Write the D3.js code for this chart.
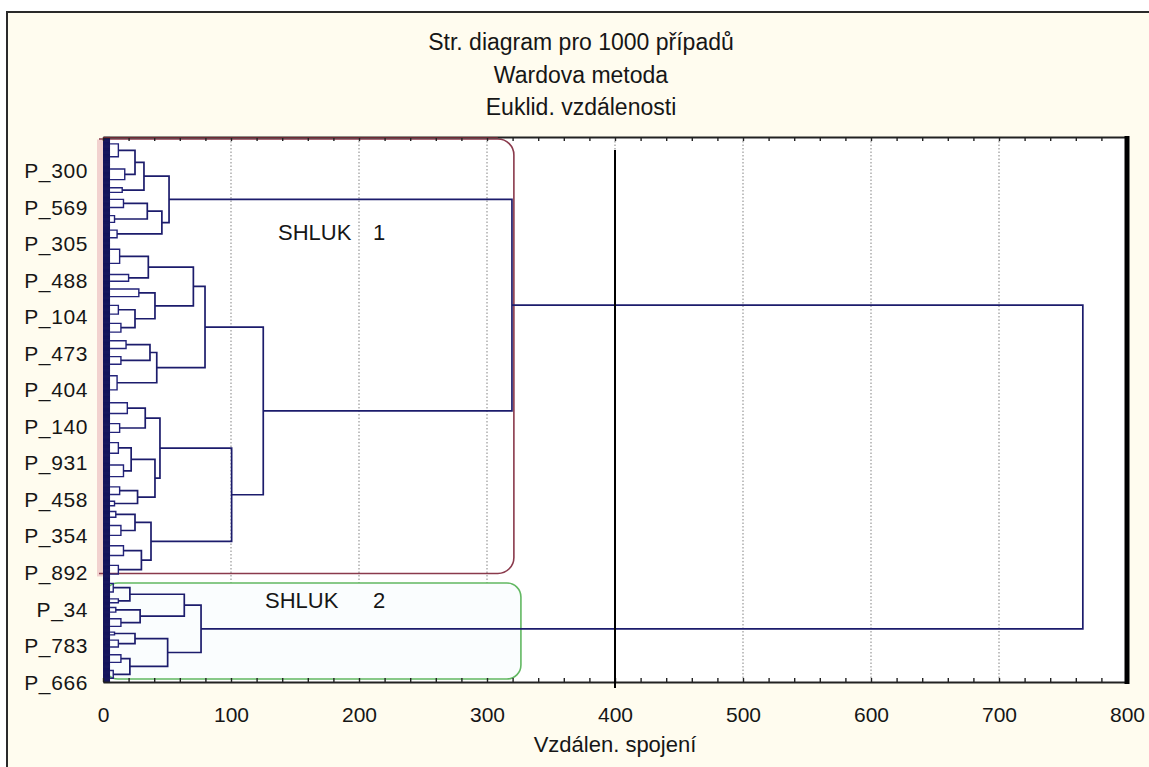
<!DOCTYPE html>
<html>
<head>
<meta charset="utf-8">
<script src="https://cdn.jsdelivr.net/npm/d3@7"></script>
<style>
  body { margin: 0; background: #fff; }
  text { font-family: "Liberation Sans", Arial, sans-serif; fill: #161616; }
</style>
</head>
<body>
<svg id="chart" width="1149" height="767"></svg>
<script>
// ---- chart content -------------------------------------------------------
const titleLines = ["Str. diagram pro 1000 případů", "Wardova metoda", "Euklid. vzdálenosti"];
const axisTitle = "Vzdálen. spojení";
const distanceTicks = [0, 100, 200, 300, 400, 500, 600, 700, 800];
const gridTicks = [100, 200, 300, 400, 500, 600, 700];
const caseLabels = ["P_300", "P_569", "P_305", "P_488", "P_104", "P_473", "P_404", "P_140",
                    "P_931", "P_458", "P_354", "P_892", "P_34", "P_783", "P_666"];
const caseLabelIndex = [61, 128, 195, 262, 329, 396, 463, 530, 597, 664, 731, 798, 865, 932, 999];
const cutDistance = 400;
const clusterNames = ["SHLUK 1", "SHLUK 2"];

// lowest drawn sub-clusters, top to bottom: [id, number of cases, linkage distance]
const twigs = [
  ["t1", 48, 12], ["t2", 40, 17], ["t3", 18, 15], ["t4", 31, 16], ["t5", 26, 9], ["t6", 29, 11],
  ["t7", 53, 13], ["t8", 26, 20], ["t9", 29, 28], ["t10", 33, 12], ["t11", 33, 14],
  ["t12", 29, 18], ["t13", 29, 14], ["t14", 53, 11],
  ["t15", 40, 19], ["t16", 33, 13], ["t17", 40, 12], ["t18", 44, 16], ["t19", 29, 13], ["t20", 18, 9],
  ["t21", 22, 10], ["t22", 37, 14], ["t23", 37, 16], ["t24", 33, 12],
  ["t25", 33, 8], ["t26", 15, 12], ["t27", 18, 10], ["t28", 29, 14],
  ["t29", 11, 9], ["t30", 26, 12], ["t31", 29, 14], ["t32", 29, 8]
];

// joins above them: [id, upper child, lower child, linkage distance]
const merges = [
  ["A1a", "t1", "t2", 25], ["A1", "A1a", "t3", 32],
  ["A2a", "t4", "t5", 34.6], ["A2", "A2a", "t6", 46], ["A", "A1", "A2", 51.6],
  ["B1a1", "t7", "t8", 35.4], ["B1a2b", "t10", "t11", 25], ["B1a2", "t9", "B1a2b", 40.6],
  ["B1a", "B1a1", "B1a2", 70.6], ["B1b1", "t12", "t13", 36.7], ["B1b", "B1b1", "t14", 42],
  ["B1", "B1a", "B1b", 79.7],
  ["B2a1", "t15", "t16", 33], ["B2a2a", "t17", "t18", 22], ["B2a2b", "t19", "t20", 27],
  ["B2a2", "B2a2a", "B2a2b", 40.6], ["B2a", "B2a1", "B2a2", 44.5],
  ["B2b1", "t21", "t22", 25], ["B2b2", "t23", "t24", 30], ["B2b", "B2b1", "B2b2", 37.5],
  ["B2", "B2a", "B2b", 100.5], ["B", "B1", "B2", 125.2],
  ["K1", "A", "B", 319.5],
  ["S2a1", "t25", "t26", 21], ["S2a2", "t27", "t28", 29], ["S2a", "S2a1", "S2a2", 63.5],
  ["S2b1", "t29", "t30", 25], ["S2b2", "t31", "t32", 21], ["S2b", "S2b1", "S2b2", 50.5],
  ["K2", "S2a", "S2b", 76.6],
  ["root", "K1", "K2", 765.5]
];
const clusterRoots = ["K1", "K2"];

// ---- layout --------------------------------------------------------------
const W = 1149, H = 767;
const plot = { left: 103, right: 1127, top: 137, bottom: 682 };
const svg = d3.select("#chart");

const totalCases = d3.sum(twigs, d => d[1]);
const x = d3.scaleLinear().domain([0, 800]).range([plot.left, plot.right]);
const y = d3.scaleLinear().domain([0, totalCases - 1]).range([plot.top + 0.5, plot.bottom]);

// node positions
const nodes = new Map();
let offset = 0;
twigs.forEach(([id, n, h]) => {
  nodes.set(id, { id, h, first: offset, last: offset + n - 1, twig: true,
                  yc: y(offset + (n - 1) / 2) });
  offset += n;
});
merges.forEach(([id, a, b, h]) => {
  const na = nodes.get(a), nb = nodes.get(b);
  nodes.set(id, { id, h, a: na, b: nb, first: na.first, last: nb.last, yc: (na.yc + nb.yc) / 2 });
});

// ---- background and frame ------------------------------------------------
svg.append("rect").attr("width", W).attr("height", H).attr("fill", "#ffffff");
svg.append("rect").attr("x", 7).attr("y", 12).attr("width", W + 40).attr("height", H + 40)
  .attr("fill", "#fffcef").attr("stroke", "#2a2a2a").attr("stroke-width", 2);

// title
svg.append("g").selectAll("text").data(titleLines).join("text")
  .attr("x", 581).attr("y", (d, i) => 50 + i * 32.5)
  .attr("text-anchor", "middle").attr("font-size", 23).text(d => d);

// pink margin of the first cluster outside the plot
const k1 = nodes.get(clusterRoots[0]), k2 = nodes.get(clusterRoots[1]);
svg.append("rect").attr("x", 97).attr("y", y(k1.first) + 2)
  .attr("width", plot.left - 97).attr("height", y(k1.last) - y(k1.first) - 4)
  .attr("fill", "#f2d2cf");

// plot area
svg.append("rect").attr("x", plot.left).attr("y", plot.top)
  .attr("width", plot.right - plot.left).attr("height", plot.bottom - plot.top)
  .attr("fill", "#ffffff");

// dotted grid
svg.append("g").selectAll("line").data(gridTicks).join("line")
  .attr("x1", d => x(d)).attr("x2", d => x(d))
  .attr("y1", plot.top + 4).attr("y2", plot.bottom - 2)
  .attr("stroke", "#a0a0a0").attr("stroke-width", 1.3).attr("stroke-dasharray", "1.5,2");

// cluster boxes
const boxR = 16;
const b1 = { x0: 99, x1: x(321), y0: plot.top + 2, y1: y(k1.last) - 5 };
svg.append("path")
  .attr("d", `M${b1.x0},${b1.y0} H${b1.x1 - boxR} A${boxR},${boxR} 0 0 1 ${b1.x1},${b1.y0 + boxR}
              V${b1.y1 - boxR} A${boxR},${boxR} 0 0 1 ${b1.x1 - boxR},${b1.y1} H${b1.x0}`)
  .attr("fill", "none").attr("stroke", "#8a3a4c").attr("stroke-width", 1.6);

const b2 = { x0: plot.left + 1, x1: x(326.5), y0: y(k2.first) + 4, y1: plot.bottom - 3 };
svg.append("rect").attr("x", b2.x0).attr("y", b2.y0)
  .attr("width", b2.x1 - b2.x0).attr("height", b2.y1 - b2.y0).attr("rx", 14)
  .attr("fill", "#fafdfe").attr("stroke", "#62b862").attr("stroke-width", 1.6);

// cluster captions
const captionPos = [{ x: 278, y: 240, nx: 373 }, { x: 265, y: 608, nx: 373 }];
clusterNames.forEach((name, i) => {
  const [word, num] = name.split(" ");
  const g = svg.append("g").attr("font-size", 22);
  g.append("text").attr("x", captionPos[i].x).attr("y", captionPos[i].y).text(word);
  g.append("text").attr("x", captionPos[i].nx).attr("y", captionPos[i].y).text(num);
});

// ---- dendrogram ----------------------------------------------------------
const lineColor = "#1c1c6c";
const stubH = 5.5;
const tree = svg.append("g").attr("fill", "none").attr("stroke", lineColor)
  .attr("stroke-width", 1.7);

// one short stub per case: the dense band of the lowest joins
svg.append("g").selectAll("line").data(d3.range(totalCases)).join("line")
  .attr("x1", x(0)).attr("x2", x(stubH))
  .attr("y1", d => y(d)).attr("y2", d => y(d))
  .attr("stroke", "#15155c").attr("stroke-width", 1.2);

// lowest sub-clusters as small brackets on the band
nodes.forEach(n => {
  if (!n.twig) return;
  const span = n.last - n.first;
  const ya = y(n.first + span * 0.25), yb = y(n.first + span * 0.75);
  tree.append("path")
    .attr("d", `M${x(stubH)},${ya} H${x(n.h)} V${yb} H${x(stubH)}`)
    .attr("stroke", "#23237a").attr("stroke-width", 1.4);
});

// joins
merges.forEach(([id]) => {
  const n = nodes.get(id);
  tree.append("path")
    .attr("d", `M${x(n.a.h)},${n.a.yc} H${x(n.h)} V${n.b.yc} H${x(n.b.h)}`);
});

// ---- axes ----------------------------------------------------------------
const minorTicks = d3.range(0, 801, 20);
const axisB = svg.append("g").attr("transform", `translate(0,${plot.bottom})`)
  .call(d3.axisBottom(x).tickValues(minorTicks).tickSizeInner(-4).tickSizeOuter(0).tickFormat(""));
const axisT = svg.append("g").attr("transform", `translate(0,${plot.top})`)
  .call(d3.axisTop(x).tickValues(minorTicks).tickSizeInner(-4).tickSizeOuter(0).tickFormat(""));
[axisB, axisT].forEach(g => {
  g.select(".domain").attr("stroke", "#222").attr("stroke-width", 2);
  g.selectAll(".tick line").attr("stroke", "#222").attr("stroke-width", 1.4);
});
// red box top edge runs along the top axis
svg.append("line").attr("x1", plot.left).attr("x2", b1.x1 - boxR)
  .attr("y1", plot.top + 0.5).attr("y2", plot.top + 0.5)
  .attr("stroke", "#6e2a34").attr("stroke-width", 1.2);

svg.append("g").attr("transform", `translate(0,${plot.bottom})`)
  .call(d3.axisBottom(x).tickValues(distanceTicks).tickSize(0).tickPadding(25)
        .tickFormat(d3.format("d")))
  .call(g => g.select(".domain").remove())
  .call(g => g.selectAll("text").attr("font-size", 21).attr("fill", "#161616")
        .attr("font-family", "Liberation Sans, Arial, sans-serif"));

// right border
svg.append("line").attr("x1", plot.right).attr("x2", plot.right)
  .attr("y1", plot.top - 1).attr("y2", plot.bottom + 2)
  .attr("stroke", "#000").attr("stroke-width", 5);

// cut line
svg.append("line").attr("x1", x(cutDistance)).attr("x2", x(cutDistance))
  .attr("y1", plot.top + 13).attr("y2", plot.bottom + 6)
  .attr("stroke", "#000").attr("stroke-width", 2);

// axis title
svg.append("text").attr("x", (plot.left + plot.right) / 2).attr("y", 752)
  .attr("text-anchor", "middle").attr("font-size", 22).text(axisTitle);

// case labels
svg.append("g").selectAll("text").data(caseLabels).join("text")
  .attr("x", 88).attr("y", (d, i) => y(caseLabelIndex[i]))
  .attr("dy", "0.36em").attr("text-anchor", "end")
  .attr("font-size", 21).attr("letter-spacing", 0.6).text(d => d);
</script>
</body>
</html>
